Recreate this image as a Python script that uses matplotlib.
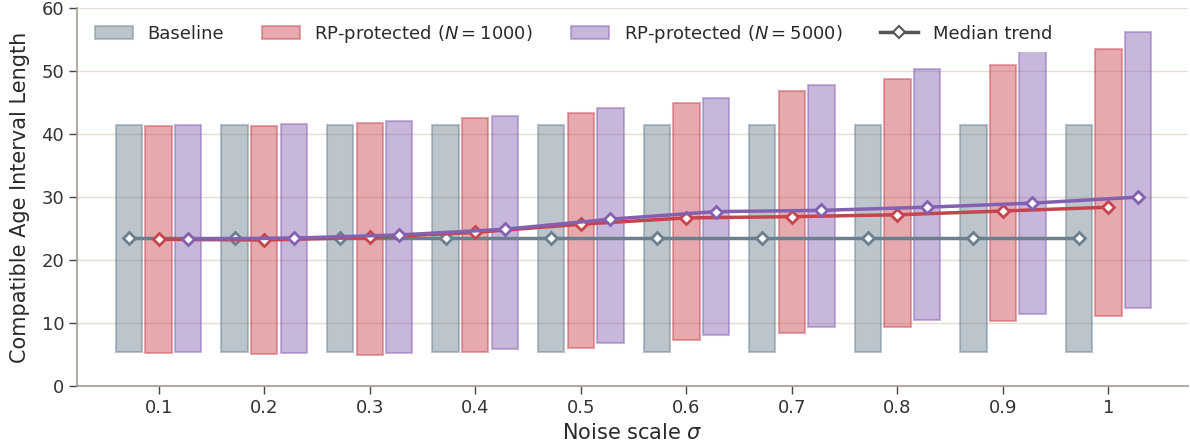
import numpy as np
import matplotlib.pyplot as plt
from matplotlib.colors import to_rgb
from matplotlib.lines import Line2D

# noise scales
sigmas = ["0.1", "0.2", "0.3", "0.4", "0.5", "0.6", "0.7", "0.8", "0.9", "1"]

# interval length ranges (low / high) and medians
base_low = [5.5, 5.5, 5.5, 5.5, 5.5, 5.5, 5.5, 5.5, 5.5, 5.5]
base_high = [41.5, 41.5, 41.5, 41.5, 41.5, 41.5, 41.5, 41.5, 41.5, 41.5]
base_med = [23.5, 23.5, 23.5, 23.5, 23.5, 23.5, 23.5, 23.5, 23.5, 23.5]

n1000_low = [5.3, 5.1, 4.9, 5.4, 6.1, 7.3, 8.4, 9.4, 10.3, 11.2]
n1000_high = [41.3, 41.3, 41.8, 42.5, 43.4, 45.0, 46.8, 48.8, 51.0, 53.5]
n1000_med = [23.3, 23.2, 23.6, 24.4, 25.7, 26.7, 26.9, 27.2, 27.8, 28.4]

n5000_low = [5.35, 5.3, 5.3, 5.9, 6.8, 8.15, 9.4, 10.5, 11.5, 12.4]
n5000_high = [41.4, 41.6, 42.0, 42.9, 44.1, 45.7, 47.8, 50.3, 53.3, 56.2]
n5000_med = [23.3, 23.5, 24.0, 24.9, 26.5, 27.7, 27.9, 28.4, 29.05, 30.0]

series = [
    ("Baseline", base_low, base_high, base_med, "#6b7f8e", -0.28),
    (r"RP-protected ($N=1000$)", n1000_low, n1000_high, n1000_med, "#c8444d", 0.0),
    (r"RP-protected ($N=5000$)", n5000_low, n5000_high, n5000_med, "#8460b0", 0.28),
]

fig, ax = plt.subplots(figsize=(11.9, 4.48), dpi=100)
fig.subplots_adjust(left=0.065, right=0.998, bottom=0.138, top=0.982)

x = np.arange(len(sigmas))
handles = []
for label, low, high, med, color, off in series:
    low = np.array(low)
    high = np.array(high)
    rgba = (*to_rgb(color), 0.45)
    ax.bar(x + off, high - low, bottom=low, width=0.25,
           facecolor=rgba, edgecolor=rgba, linewidth=1.5, zorder=2)
    handles.append(plt.Rectangle((0, 0), 1, 1, facecolor=rgba, edgecolor=rgba,
                                 linewidth=1.5, label=label))

# median lines on top of the range bars
for label, low, high, med, color, off in series:
    ax.plot(x + off, med, color=color, linewidth=2.5, marker="D", markersize=6.5,
            markerfacecolor="white", markeredgecolor=color, markeredgewidth=2, zorder=4)

handles.append(Line2D([0], [0], color="#555555", linewidth=2.5, marker="D", markersize=6.5,
                      markerfacecolor="white", markeredgecolor="#555555", markeredgewidth=1.5,
                      label="Median trend"))

ax.set_xlim(-0.77, 9.75)
ax.set_ylim(0, 60)
ax.set_xticks(x)
ax.set_xticklabels(sigmas)
ax.set_yticks(range(0, 61, 10))
ax.yaxis.grid(True, color="#e6ddd3", linewidth=1, zorder=0)
ax.set_axisbelow(True)

for side in ["top", "right"]:
    ax.spines[side].set_visible(False)
for side in ["left", "bottom"]:
    ax.spines[side].set_color("#a39a90")
    ax.spines[side].set_linewidth(1.2)
ax.tick_params(labelcolor="#333333", labelsize=13, length=6, width=1, color="#444444")

ax.set_xlabel(r"Noise scale $\sigma$", fontsize=15, color="#2a2a2a", labelpad=4)
ax.set_ylabel("Compatible Age Interval Length", fontsize=15, color="#2a2a2a", labelpad=8)

leg = ax.legend(handles=handles, loc="upper center", ncol=4, frameon=True,
                framealpha=1, edgecolor="none", fontsize=13,
                bbox_to_anchor=(0.447, 1.0), handlelength=2.1, handletextpad=0.8,
                columnspacing=2.1, borderaxespad=0.4)
for t in leg.get_texts():
    t.set_color("#2a2a2a")

fig.savefig("out.png", dpi=100)
